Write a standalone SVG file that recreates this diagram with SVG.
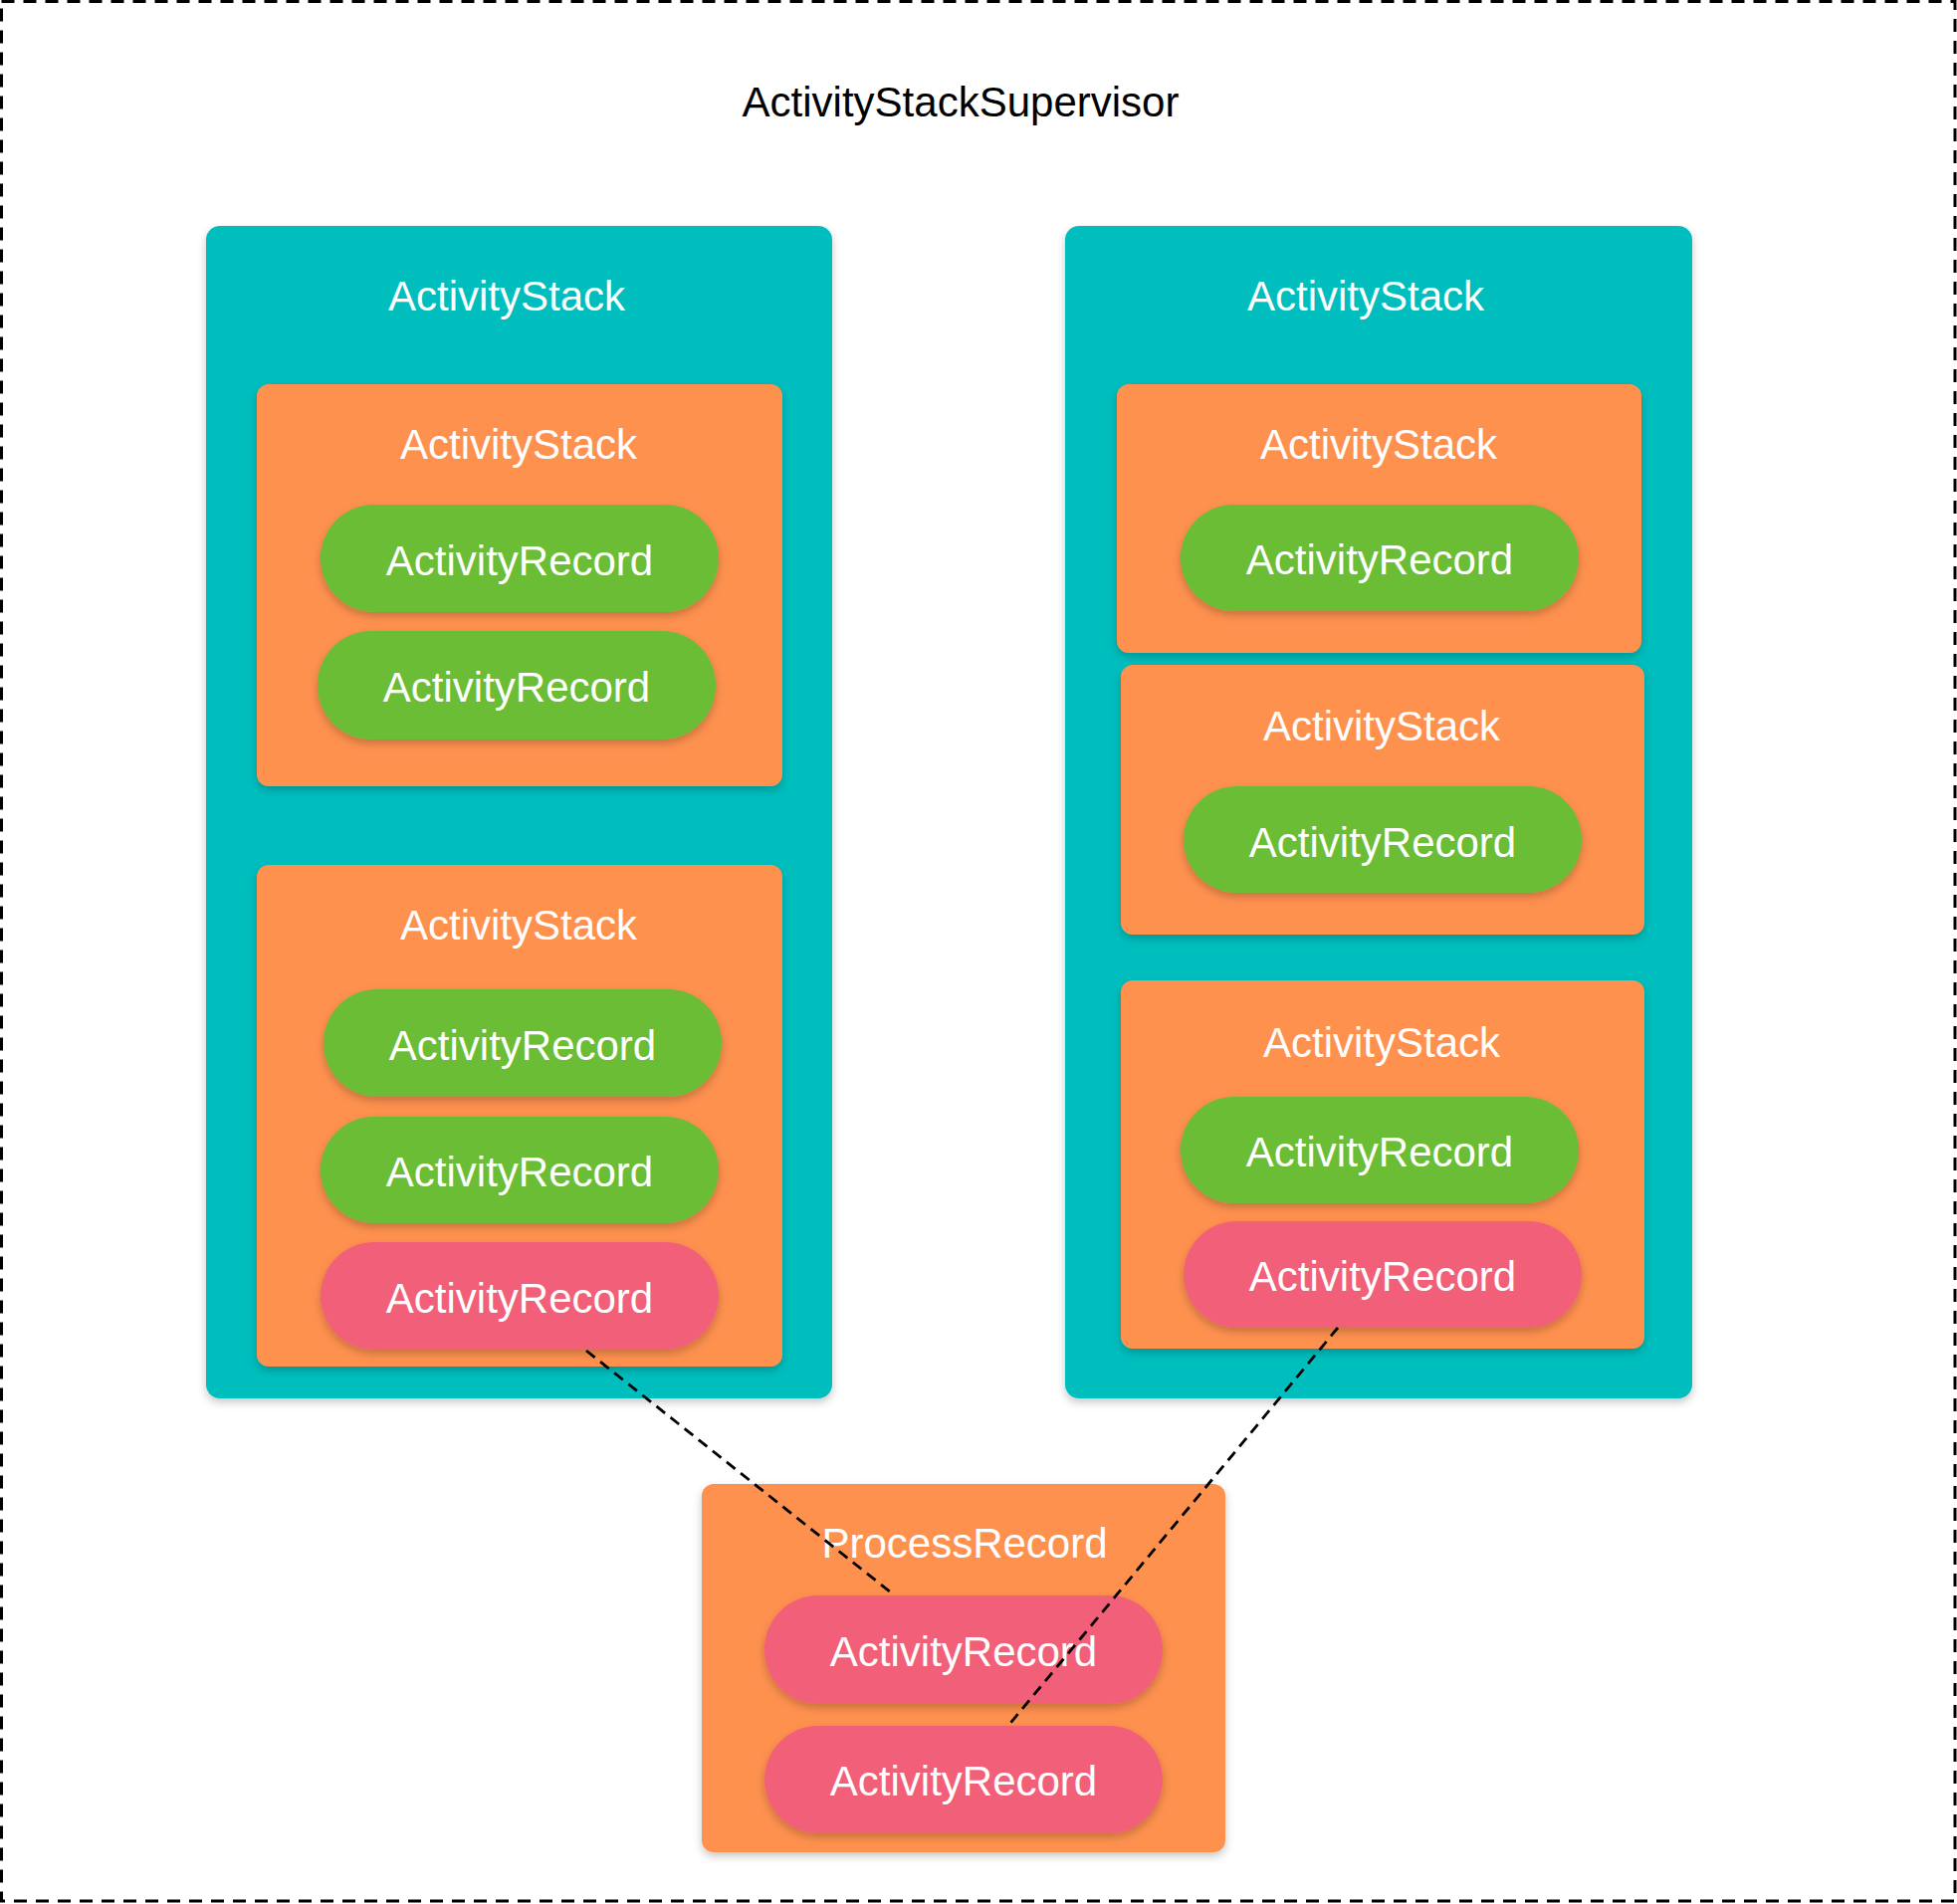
<svg xmlns="http://www.w3.org/2000/svg" width="1966" height="1913" viewBox="0 0 1966 1913">
  <defs>
    <filter id="sh" x="-10%" y="-10%" width="120%" height="125%">
      <feDropShadow dx="0" dy="4" stdDeviation="4" flood-color="#000" flood-opacity="0.22"/>
    </filter>
    <style>
      .frame { fill: none; stroke: #000; stroke-width: 3; stroke-dasharray: 13 9; }
      .teal { fill: #00BEBE; filter: url(#sh); }
      .orange { fill: #FF914F; filter: url(#sh); }
      .green { fill: #6BBD36; filter: url(#sh); }
      .pink { fill: #F16178; filter: url(#sh); }
      text { font-family: "Liberation Sans", Arial, Helvetica, sans-serif; font-size: 42px; fill: #fff; text-anchor: middle; }
      .title { fill: #000; font-size: 42px; }
      .conn { fill: none; stroke: #000; stroke-width: 2.8; stroke-dasharray: 11 7; }
    </style>
  </defs>
  <rect x="0" y="0" width="1966" height="1913" fill="#fff"/>
  <rect class="frame" x="1.5" y="1.5" width="1962.5" height="1908.5"/>
  <text class="title" x="965" y="117">ActivityStackSupervisor</text>

  <g id="stack-left">
    <rect class="teal" x="207" y="227" width="629" height="1178" rx="14"/>
    <text x="509" y="312">ActivityStack</text>
  </g>
  <g id="stack-left-1">
    <rect class="orange" x="258" y="386" width="528" height="404" rx="12"/>
    <text x="521" y="461">ActivityStack</text>
  </g>
  <g id="rec-l1a">
    <rect class="green" x="322" y="507" width="400" height="108" rx="54"/>
    <text x="522" y="578">ActivityRecord</text>
  </g>
  <g id="rec-l1b">
    <rect class="green" x="319" y="634" width="400" height="109" rx="54"/>
    <text x="519" y="705">ActivityRecord</text>
  </g>
  <g id="stack-left-2">
    <rect class="orange" x="258" y="869" width="528" height="504" rx="12"/>
    <text x="521" y="944">ActivityStack</text>
  </g>
  <g id="rec-l2a">
    <rect class="green" x="325" y="994" width="400" height="108" rx="54"/>
    <text x="525" y="1065">ActivityRecord</text>
  </g>
  <g id="rec-l2b">
    <rect class="green" x="322" y="1122" width="400" height="107" rx="53.5"/>
    <text x="522" y="1192">ActivityRecord</text>
  </g>
  <g id="rec-l2c">
    <rect class="pink" x="322" y="1248" width="400" height="108" rx="54"/>
    <text x="522" y="1319">ActivityRecord</text>
  </g>

  <g id="stack-right">
    <rect class="teal" x="1070" y="227" width="630" height="1178" rx="14"/>
    <text x="1372" y="312">ActivityStack</text>
  </g>
  <g id="stack-right-1">
    <rect class="orange" x="1122" y="386" width="527" height="270" rx="12"/>
    <text x="1385" y="461">ActivityStack</text>
  </g>
  <g id="rec-r1a">
    <rect class="green" x="1186" y="507" width="400" height="107" rx="53.5"/>
    <text x="1386" y="577">ActivityRecord</text>
  </g>
  <g id="stack-right-2">
    <rect class="orange" x="1126" y="668" width="526" height="271" rx="12"/>
    <text x="1388" y="744">ActivityStack</text>
  </g>
  <g id="rec-r2a">
    <rect class="green" x="1189" y="790" width="400" height="107" rx="53.5"/>
    <text x="1389" y="861">ActivityRecord</text>
  </g>
  <g id="stack-right-3">
    <rect class="orange" x="1126" y="985" width="526" height="370" rx="12"/>
    <text x="1388" y="1062">ActivityStack</text>
  </g>
  <g id="rec-r3a">
    <rect class="green" x="1186" y="1102" width="400" height="107" rx="53.5"/>
    <text x="1386" y="1172">ActivityRecord</text>
  </g>
  <g id="rec-r3b">
    <rect class="pink" x="1189" y="1227" width="400" height="107" rx="53.5"/>
    <text x="1389" y="1297">ActivityRecord</text>
  </g>

  <g id="process-record">
    <rect class="orange" x="705" y="1491" width="526" height="370" rx="12"/>
    <text x="969" y="1565">ProcessRecord</text>
  </g>
  <g id="rec-p1">
    <rect class="pink" x="768" y="1603" width="400" height="109" rx="54"/>
    <text x="968" y="1674">ActivityRecord</text>
  </g>
  <g id="rec-p2">
    <rect class="pink" x="768" y="1734" width="400" height="108" rx="54"/>
    <text x="968" y="1804">ActivityRecord</text>
  </g>

  <g id="connectors">
    <line class="conn" x1="589" y1="1357" x2="895" y2="1600"/>
    <line class="conn" x1="1344" y1="1334" x2="1012" y2="1735"/>
  </g>
</svg>
